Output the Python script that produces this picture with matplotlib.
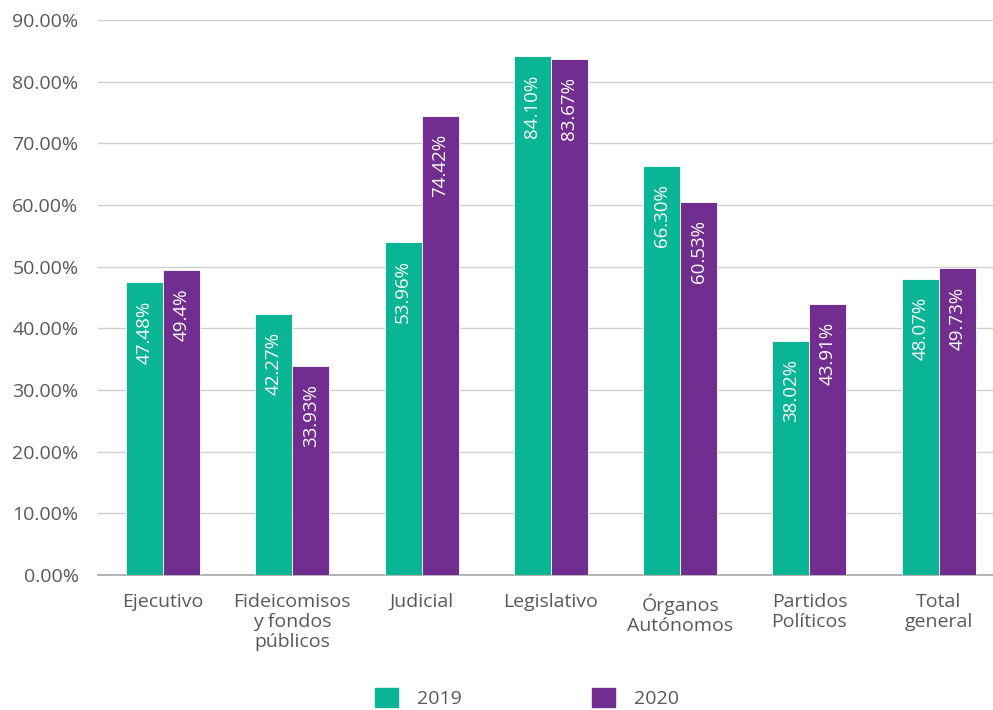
import matplotlib.pyplot as plt
import numpy as np
from matplotlib.ticker import FuncFormatter
from matplotlib.patches import Patch

categories = ["Ejecutivo", "Fideicomisos\ny fondos\npúblicos", "Judicial", "Legislativo",
              "Órganos\nAutónomos", "Partidos\nPolíticos", "Total\ngeneral"]
values_2019 = [47.48, 42.27, 53.96, 84.10, 66.30, 38.02, 48.07]
values_2020 = [49.40, 33.93, 74.42, 83.67, 60.53, 43.91, 49.73]
labels_2019 = ["47.48%", "42.27%", "53.96%", "84.10%", "66.30%", "38.02%", "48.07%"]
labels_2020 = ["49.4%", "33.93%", "74.42%", "83.67%", "60.53%", "43.91%", "49.73%"]
series_names = ["2019", "2020"]

teal = "#0AB596"
purple = "#712D8F"
text_gray = "#595959"

plt.rcParams["font.family"] = ["Open Sans", "DejaVu Sans"]

fig = plt.figure(figsize=(9.93, 7.10), dpi=100)
ax = fig.add_axes([98 / 993, 1 - 575 / 710, 895 / 993, 555 / 710])

x = np.arange(len(categories))
w = 0.286
b1 = ax.bar(x - w / 2, values_2019, w, color=teal, edgecolor="white", linewidth=0.6, zorder=3)
b2 = ax.bar(x + w / 2, values_2020, w, color=purple, edgecolor="white", linewidth=0.6, zorder=3)

# value labels, rotated, just under the top of each bar
for bars, labs in ((b1, labels_2019), (b2, labels_2020)):
    for rect, lab in zip(bars, labs):
        ax.annotate(lab, (rect.get_x() + rect.get_width() / 2, rect.get_height()),
                    xytext=(0, -13), textcoords="offset points",
                    rotation=90, ha="center", va="top", color="white",
                    fontsize=13.5, zorder=4)

ax.set_xlim(-0.503, 6.42)
ax.set_ylim(0, 90)
ax.set_yticks(np.arange(0, 91, 10))
ax.yaxis.set_major_formatter(FuncFormatter(lambda v, p: f"{v:.2f}%"))
ax.grid(axis="y", color="#d0d0d0", linewidth=1, zorder=0)
ax.set_xticks(x)
ax.set_xticklabels(categories, fontsize=14, color=text_gray, linespacing=1.15)
ax.tick_params(axis="y", labelsize=14, labelcolor=text_gray, length=0, pad=14)
ax.tick_params(axis="x", length=0, pad=13)
for s in ("top", "right", "left"):
    ax.spines[s].set_visible(False)
ax.spines["bottom"].set_color("#a6a6a6")
ax.spines["bottom"].set_linewidth(1.2)

handles = [Patch(color=teal), Patch(color=purple)]
fig.legend(handles, series_names, loc="lower center", bbox_to_anchor=(0.531, -0.022),
           ncol=2, frameon=False, fontsize=14, labelcolor=text_gray,
           handlelength=1.15, handleheight=1.15, columnspacing=6.7, handletextpad=1.0)

fig.savefig("out.png", dpi=100)
